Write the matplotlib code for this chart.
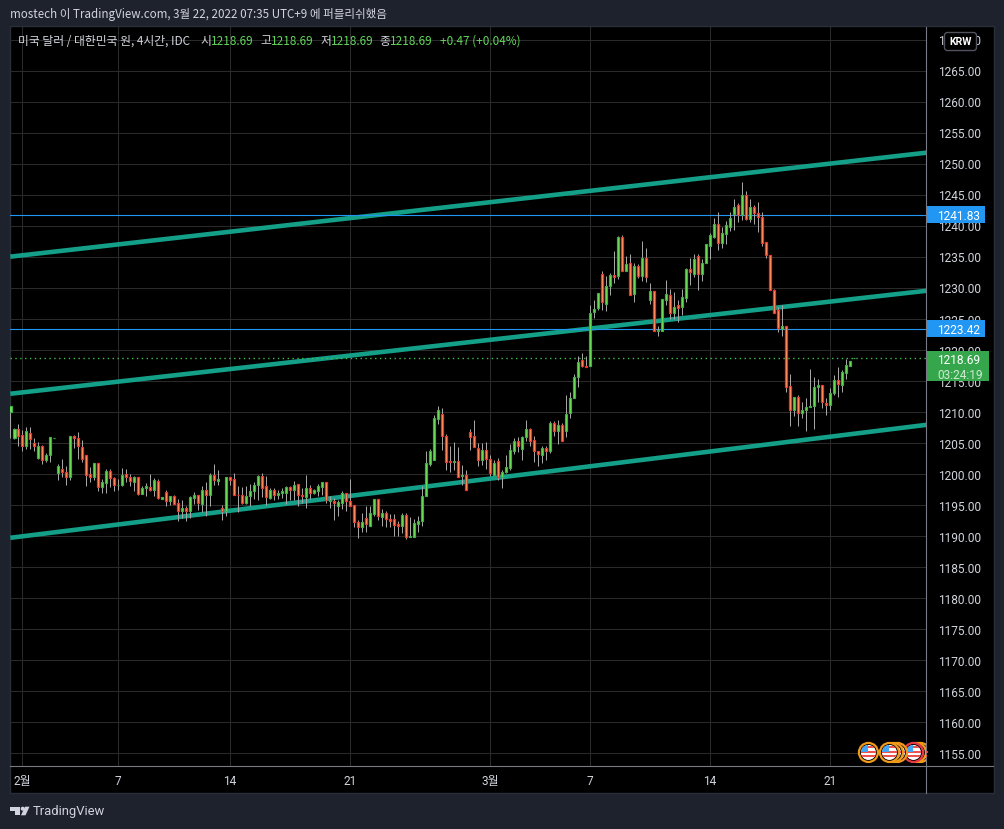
import numpy as np
import matplotlib
matplotlib.use('Agg')
import matplotlib.pyplot as plt
from matplotlib.patches import Rectangle, Circle, FancyBboxPatch, Polygon

plt.rcParams['font.family'] = ['Roboto', 'Noto Sans CJK KR', 'DejaVu Sans']

# 4 hour candles
opens = [1210.0,1205.8,1207.3,1206.3,1204.6,1206.6,1205.0,1202.6,1204.6,1202.2,
         1203.0,1205.8,1200.1,1200.8,1200.3,1199.5,1206.2,1205.8,1204.4,1203.1,
         1200.0,1199.5,1201.8,1197.9,1198.5,1200.5,1199.4,1198.2,1198.2,1200.0,
         1199.5,1198.8,1199.5,1196.8,1197.7,1197.9,1197.5,1198.9,1196.0,1197.1,
         1195.7,1196.5,1195.3,1194.0,1194.5,1194.0,1196.2,1196.6,1195.2,1197.4,
         1196.6,1199.8,1198.9,1194.5,1194.1,1199.5,1199.2,1196.7,1196.6,1195.3,
         1196.4,1197.2,1198.2,1199.7,1198.0,1196.1,1197.4,1196.7,1197.0,1197.0,
         1197.9,1197.5,1198.4,1196.6,1196.3,1197.7,1196.9,1197.3,1197.9,1198.8,
         1195.6,1195.7,1194.8,1195.4,1196.9,1195.6,1195.0,1192.3,1191.4,1192.9,
         1191.7,1193.5,1196.0,1193.1,1193.7,1192.8,1192.8,1192.0,1191.7,1193.4,
         1189.8,1189.8,1192.0,1192.5,1196.4,1201.7,1202.3,1208.9,1209.7,1206.1,
         1202.1,1202.0,1202.1,1199.7,1199.9,1206.8,1206.2,1204.2,1202.2,1203.9,
         1202.4,1199.8,1202.1,1199.6,1200.4,1201.0,1203.8,1205.3,1204.1,1205.9,
         1207.2,1205.5,1203.7,1203.1,1204.2,1203.8,1208.2,1207.0,1207.9,1206.9,
         1209.8,1212.3,1215.6,1218.4,1217.5,1217.4,1226.2,1226.8,1232.3,1227.4,
         1230.3,1232.1,1231.9,1238.3,1232.8,1234.0,1229.1,1233.5,1232.0,1234.8,
         1228.0,1229.5,1223.0,1223.0,1228.1,1228.9,1226.0,1227.2,1226.9,1228.4,
         1233.1,1232.3,1235.2,1232.3,1234.0,1236.7,1238.3,1240.3,1237.3,1238.7,
         1239.9,1242.0,1243.4,1241.7,1245.0,1241.2,1243.1,1242.1,1241.5,1237.4,
         1235.3,1229.7,1226.5,1223.4,1223.9,1214.2,1210.4,1212.4,1209.8,1210.4,
         1210.8,1211.0,1214.0,1214.4,1211.5,1211.1,1213.0,1215.2,1214.3,1216.3,1217.4,1218.69]
closes = [1211.0,1207.3,1206.2,1204.6,1206.9,1205.7,1204.5,1204.6,1202.2,1203.1,
          1205.9,1205.8,1201.3,1200.3,1199.5,1206.2,1205.8,1204.5,1202.4,1199.8,
          1199.5,1201.8,1197.9,1198.7,1200.5,1199.3,1198.2,1198.2,1199.8,1199.5,
          1198.9,1199.5,1196.8,1197.8,1198.0,1197.5,1199.1,1196.2,1196.3,1195.6,
          1196.5,1195.2,1194.0,1194.5,1194.0,1196.3,1196.6,1195.3,1197.4,1196.6,
          1199.8,1199.1,1199.2,1194.1,1199.5,1199.1,1196.6,1196.6,1195.3,1196.5,
          1197.3,1198.2,1199.7,1197.8,1196.3,1197.4,1196.7,1197.0,1197.3,1197.9,
          1197.5,1198.2,1196.6,1196.4,1197.7,1196.9,1197.4,1198.0,1198.7,1195.8,
          1195.9,1195.4,1195.5,1196.9,1195.6,1194.9,1192.3,1191.4,1192.3,1191.9,
          1193.7,1196.0,1193.3,1193.7,1192.7,1192.5,1191.8,1191.7,1193.4,1189.9,
          1190.0,1192.1,1192.4,1196.5,1201.8,1203.7,1209.0,1210.3,1206.1,1202.0,
          1201.9,1202.1,1199.6,1199.9,1197.5,1206.0,1204.3,1202.2,1203.9,1202.5,
          1200.1,1201.8,1199.5,1200.4,1201.1,1203.9,1205.3,1204.5,1206.0,1207.2,
          1205.4,1203.7,1203.2,1204.2,1203.8,1208.2,1207.0,1207.9,1205.4,1209.7,
          1212.3,1215.6,1218.1,1217.4,1217.3,1225.9,1226.6,1229.2,1227.7,1230.4,
          1232.1,1231.8,1238.3,1232.8,1233.9,1228.8,1233.5,1231.9,1234.8,1231.7,
          1229.5,1223.0,1223.3,1228.2,1229.0,1225.9,1226.9,1226.7,1228.6,1233.1,
          1232.5,1234.7,1232.2,1234.0,1237.1,1238.5,1240.3,1237.2,1238.8,1240.1,
          1241.3,1243.1,1241.7,1245.0,1241.1,1243.1,1242.1,1241.4,1237.2,1235.3,
          1229.6,1225.9,1223.5,1223.9,1214.1,1210.4,1212.4,1209.9,1210.4,1210.8,
          1211.0,1214.0,1214.4,1211.6,1211.1,1213.1,1215.2,1214.6,1216.5,1217.6,1218.2,1218.69]
highs = [1211.0,1207.4,1208.1,1207.1,1207.6,1207.6,1205.8,1205.2,1204.7,1203.4,
         1206.0,1205.8,1201.7,1202.5,1201.3,1206.2,1206.3,1206.8,1205.5,1203.1,
         1201.2,1201.8,1201.8,1199.2,1200.9,1200.9,1199.5,1199.2,1201.0,1200.8,
         1200.0,1199.7,1199.5,1198.1,1198.5,1200.0,1199.4,1199.2,1196.3,1197.5,
         1196.5,1196.7,1196.0,1195.9,1194.8,1196.4,1197.1,1196.7,1198.1,1198.8,
         1200.2,1201.7,1200.6,1195.0,1199.6,1199.5,1200.1,1198.1,1197.9,1198.0,
         1198.4,1198.8,1199.9,1200.2,1199.7,1197.7,1197.7,1197.4,1197.7,1198.0,
         1198.1,1198.9,1198.4,1197.8,1199.8,1198.3,1197.6,1198.4,1198.8,1198.8,
         1196.5,1196.1,1195.8,1197.3,1197.0,1199.2,1195.0,1192.6,1193.7,1194.8,
         1194.8,1196.0,1196.0,1194.4,1194.1,1193.6,1193.6,1192.5,1193.8,1193.8,
         1193.1,1192.7,1193.2,1198.0,1203.8,1204.1,1209.6,1210.9,1210.7,1206.5,
         1204.6,1205.1,1204.4,1201.5,1200.7,1207.2,1208.8,1205.0,1205.0,1205.2,
         1203.1,1202.2,1202.6,1200.6,1203.0,1204.9,1205.8,1206.0,1206.1,1208.8,
         1207.4,1206.1,1203.8,1204.6,1204.5,1208.6,1208.6,1208.8,1208.2,1212.8,
         1213.2,1216.2,1219.1,1219.5,1219.1,1227.2,1228.0,1229.2,1232.8,1231.9,
         1232.4,1236.0,1238.4,1238.6,1235.2,1235.4,1234.0,1233.8,1237.5,1236.5,
         1230.8,1229.5,1223.9,1228.2,1231.3,1229.8,1229.4,1228.1,1229.9,1233.3,
         1234.9,1235.5,1235.4,1234.6,1237.1,1238.9,1241.3,1242.3,1239.9,1240.8,
         1242.2,1244.4,1243.7,1247.1,1245.7,1244.4,1243.4,1243.9,1242.3,1237.4,
         1235.3,1229.9,1227.0,1227.3,1223.9,1216.2,1212.5,1212.7,1211.7,1212.3,
         1217.0,1215.6,1215.3,1214.4,1212.3,1213.9,1216.0,1217.3,1216.8,1218.5,1218.2,1218.69]
lows = [1205.8,1205.7,1204.5,1203.7,1204.1,1204.1,1203.7,1202.5,1201.7,1201.9,
        1202.0,1205.8,1199.1,1199.5,1198.3,1199.1,1204.2,1202.5,1201.9,1198.1,
        1198.7,1199.1,1197.3,1196.9,1196.9,1197.9,1197.2,1197.4,1198.0,1198.7,
        1198.0,1197.2,1196.7,1196.8,1196.4,1197.2,1196.4,1196.0,1196.0,1194.9,
        1195.0,1195.1,1192.5,1193.0,1192.5,1192.9,1195.2,1194.2,1193.9,1193.2,
        1194.9,1198.3,1198.3,1192.6,1193.2,1198.3,1196.6,1193.9,1195.2,1195.2,
        1194.9,1196.0,1195.9,1196.3,1195.0,1196.0,1195.8,1196.0,1196.2,1195.2,
        1195.8,1195.8,1194.8,1195.3,1194.5,1196.0,1196.8,1196.5,1196.7,1195.4,
        1194.5,1192.6,1193.3,1194.4,1194.0,1194.8,1191.4,1189.7,1190.7,1190.7,
        1191.7,1193.2,1192.6,1191.7,1191.4,1191.4,1190.0,1190.0,1190.5,1189.6,
        1189.8,1189.8,1190.7,1191.6,1196.4,1201.3,1202.3,1208.1,1203.9,1200.7,
        1200.4,1200.7,1199.6,1198.3,1197.5,1203.9,1204.3,1201.3,1201.5,1200.9,
        1199.7,1199.8,1199.1,1197.8,1200.1,1200.7,1203.2,1203.5,1202.3,1205.3,
        1204.6,1202.0,1201.3,1201.8,1202.3,1203.4,1206.2,1204.9,1205.4,1205.9,
        1209.1,1212.3,1214.0,1217.3,1217.2,1217.4,1225.2,1226.5,1226.4,1226.3,
        1228.9,1230.8,1231.5,1232.8,1232.8,1228.8,1227.7,1231.6,1231.2,1230.9,
        1227.4,1223.0,1222.3,1223.0,1227.2,1225.0,1225.0,1224.5,1225.7,1227.8,
        1230.5,1231.8,1229.6,1231.2,1234.0,1234.6,1238.0,1236.2,1236.5,1237.1,
        1239.2,1239.3,1240.6,1241.0,1240.9,1240.6,1240.3,1239.1,1236.8,1234.8,
        1229.6,1225.9,1222.9,1222.3,1213.2,1207.8,1209.4,1207.7,1209.0,1207.0,
        1210.8,1207.2,1211.7,1210.7,1209.6,1210.4,1212.8,1212.5,1213.3,1215.4,1217.4,1218.69]

# time axis labels and the candle they sit on
tick_pos = [3, 27, 55, 85, 120, 145, 175, 205]
tick_labels = ['2월', '7', '14', '21', '3월', '7', '14', '21']
price_ticks = list(range(1155, 1275, 5))

# channel lines, price at the left and right edge
channel_x = [0, 229.3]
channel_top = [1235.05, 1251.82]
channel_mid = [1212.95, 1229.56]
channel_low = [1189.73, 1207.95]

level_lines = [1241.83, 1223.42]
last_price = 1218.69

BG = '#1e222d'
TEAL = '#149f88'
BLUE = '#2196f3'
GREY = '#d1d4dc'
GREEN_TXT = '#62d65c'
W, H = 1004, 829

fig = plt.figure(figsize=((W + 0.5) / 100, (H + 0.5) / 100), dpi=100, facecolor=BG)

# black chart panel behind everything
back = fig.add_axes([0, 0, 1, 1], zorder=0)
back.set_xlim(0, W)
back.set_ylim(H, 0)
back.axis('off')
back.add_patch(Rectangle((9.5, 26.5), 984, 767, fc='black', ec='#2a2e39', lw=1))

ax = fig.add_axes([10 / W, (H - 766) / H, 916 / W, 739 / H], zorder=1)
ax.set_facecolor('none')
ax.set_xlim(-0.075, 229.2)
ax.set_ylim(1152.95, 1272.15)
ax.set_axisbelow(True)
ax.grid(True, color='#2a2a2a', lw=0.72)
for s in ax.spines.values():
    s.set_visible(False)

ax.set_xticks(tick_pos)
ax.set_xticklabels(tick_labels)
ax.yaxis.tick_right()
ax.set_yticks(price_ticks)
ax.set_yticklabels(['%.2f' % p for p in price_ticks], va='center_baseline')
ax.tick_params(axis='y', length=0, pad=8, labelsize=8.6, labelcolor=GREY)
ax.tick_params(axis='x', length=0, pad=6, labelsize=8.6, labelcolor=GREY)

# channel and level lines
for vals in (channel_top, channel_mid, channel_low):
    ax.plot(channel_x, vals, color=TEAL, lw=3.3, solid_capstyle='butt', zorder=2)
for lv in level_lines:
    ax.axhline(lv, color=BLUE, lw=0.8, zorder=2)
ax.axhline(last_price, color='#3fc04c', lw=1, ls=(0, (1, 2.5)), zorder=2)

# candles
x = np.arange(len(opens))
o = np.array(opens)
c = np.array(closes)
up = c >= o
ax.vlines(x, lows, highs, color='#a6a6a6', lw=0.72, zorder=3)
ax.bar(x[up], (c - o)[up], bottom=o[up], width=0.6, facecolor='#74e25a',
       edgecolor='#3fae49', lw=0.85, zorder=4)
ax.bar(x[~up], (o - c)[~up], bottom=c[~up], width=0.6, facecolor='#ffa86e',
       edgecolor='#f7302a', lw=0.9, zorder=4)

# price tags on the right axis
ytrans = ax.get_yaxis_transform()
for lv in level_lines:
    ax.add_patch(Rectangle((1, lv - 1.35), 59 / 916, 2.7, transform=ytrans, fc=BLUE,
                           ec='none', clip_on=False, zorder=5))
    ax.text(1 + 11 / 916, lv, '%.2f' % lv, transform=ytrans, color='white', fontsize=8.6,
            va='center_baseline', ha='left', zorder=6)
ax.add_patch(Rectangle((1, last_price - 3.75), 63 / 916, 4.95, transform=ytrans, fc='#35a64b',
                       ec='none', clip_on=False, zorder=5))
ax.text(1 + 11 / 916, last_price, '%.2f' % last_price, transform=ytrans, color='white',
        fontsize=8.6, va='center_baseline', ha='left', zorder=6)
ax.text(1 + 11 / 916, last_price - 2.45, '03:24:19', transform=ytrans, color='#cfe9d3',
        fontsize=8.6, va='center_baseline', ha='left', zorder=6)

# header, legend, flags, logo drawn in pixel coordinates
top = fig.add_axes([0, 0, 1, 1], zorder=3)
top.set_facecolor('none')
top.set_xlim(0, W)
top.set_ylim(H, 0)
top.axis('off')

top.plot([926, 926], [27, 793], color='#787b86', lw=0.8)
top.plot([10, 993], [766, 766], color='#787b86', lw=0.8)

kr = ['Noto Sans CJK KR', 'DejaVu Sans']
top.text(10, 14, 'mostech 이 TradingView.com, 3월 22, 2022 07:35 UTC+9 에 퍼블리쉬했음',
         color=GREY, fontsize=8.35, family=kr, va='center')
top.text(18, 41, '미국 달러 / 대한민국 원, 4시간, IDC', color=GREY, fontsize=8.5, family=kr, va='center')
for lab, lx in zip(['시', '고', '저', '종'], [200, 260, 320, 379]):
    top.text(lx, 41, lab, color=GREY, fontsize=8.5, family=kr, va='center')
for vx in [211, 271, 331, 390]:
    top.text(vx, 41, '%.2f' % last_price, color=GREEN_TXT, fontsize=8.5, family=kr, va='center')
top.text(440, 41, '+0.47 (+0.04%)', color=GREEN_TXT, fontsize=8.5, family=kr, va='center')

# currency button
top.add_patch(FancyBboxPatch((946, 35), 28, 14, boxstyle='round,pad=2,rounding_size=3',
                             fc='black', ec='#50535e', lw=1))
top.text(960, 42, 'KRW', color='white', fontsize=7.6, weight='bold', ha='center', va='center')

clip = Rectangle((840, 730), 86, 40, transform=top.transData)


def flag(cx, cy, ring):
    # little US flag event marker
    rim = Circle((cx, cy), 9.5, fc='black', ec=ring, lw=1.6, zorder=3)
    top.add_patch(rim)
    rim.set_clip_path(clip)
    disc = Circle((cx, cy), 7.5, fc='white', ec='none', zorder=3)
    top.add_patch(disc)
    disc.set_clip_path(clip)
    for dy in (-6, -1.5, 3):
        st = Rectangle((cx - 8, cy + dy), 16, 2, fc='#ef5350', ec='none', zorder=3)
        top.add_patch(st)
        st.set_clip_path(Circle((cx, cy), 7.5, transform=top.transData))
    can = Rectangle((cx - 8, cy - 8), 8, 8, fc='#42a5f5', ec='none', zorder=3)
    top.add_patch(can)
    can.set_clip_path(Circle((cx, cy), 7.5, transform=top.transData))


for fx, ring in [(920, '#f09a1a'), (916, '#f09a1a'), (913, '#e53945'), (897, '#f09a1a'),
                 (893, '#f09a1a'), (889, '#f09a1a'), (868, '#f09a1a')]:
    flag(fx, 752.5, ring)

# TradingView mark
top.add_patch(Polygon([(10, 806.7), (20, 806.7), (20, 815.3), (14.7, 815.3), (14.7, 810.7), (10, 810.7)],
                      fc=GREY, ec='none'))
top.add_patch(Circle((22.7, 808.7), 2, fc=GREY, ec='none'))
top.add_patch(Polygon([(25, 806.7), (29.5, 806.7), (25.5, 815.3), (21, 815.3)], fc=GREY, ec='none'))
top.text(33, 811, 'TradingView', color=GREY, fontsize=9.4, family=['Roboto'], va='center')

fig.savefig('out.png', dpi=100, facecolor=BG)
